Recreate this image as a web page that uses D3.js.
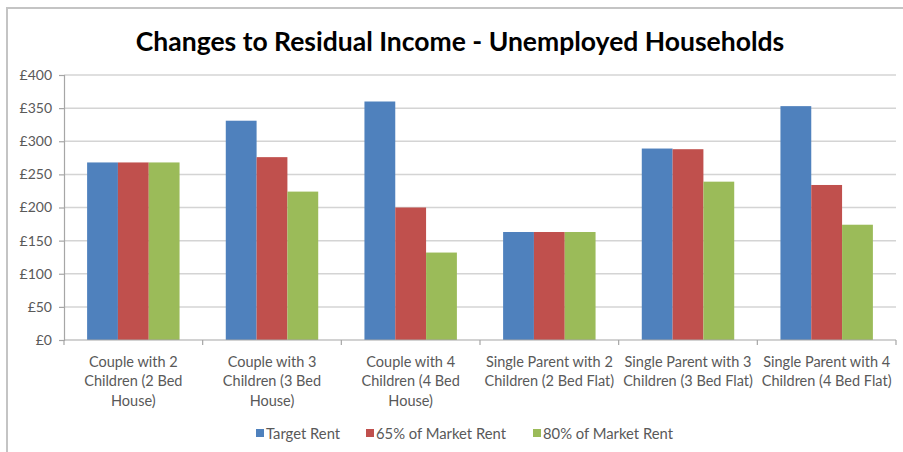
<!DOCTYPE html>
<html>
<head>
<meta charset="utf-8">
<script src="https://cdn.jsdelivr.net/npm/d3@7"></script>
<style>
  body { margin: 0; background: #fff; }
  svg { display: block; font-family: Lato, "Open Sans", sans-serif; }
</style>
</head>
<body>
<svg id="chart" width="903" height="452"></svg>
<script>
// Household types, already split into the lines shown under the axis
const categories = [
  ["Couple with 2", "Children (2 Bed", "House)"],
  ["Couple with 3", "Children (3 Bed", "House)"],
  ["Couple with 4", "Children (4 Bed", "House)"],
  ["Single Parent with 2", "Children (2 Bed Flat)"],
  ["Single Parent with 3", "Children (3 Bed Flat)"],
  ["Single Parent with 4", "Children (4 Bed Flat)"]
];
const seriesNames = ["Target Rent", "65% of Market Rent", "80% of Market Rent"];
const targetRent = [268, 331, 360, 163, 289, 353];
const marketRent65 = [268, 276, 200, 163, 288, 234];
const marketRent80 = [268, 224, 132, 163, 239, 174];
const yTicks = [0, 50, 100, 150, 200, 250, 300, 350, 400];
const seriesColors = ["#4F81BD", "#C0504D", "#9BBB59"];

const seriesValues = [targetRent, marketRent65, marketRent80];

const svg = d3.select("#chart");
const W = 903, H = 452;
const plot = { left: 64, right: 896, top: 75, bottom: 340 };

// outer frame (top and left edges)
svg.append("path")
  .attr("d", `M7,${H} L7,8 L${W},8`)
  .attr("fill", "none")
  .attr("stroke", "#c4c4c4")
  .attr("stroke-width", 2);

// title
svg.append("text")
  .attr("x", 460)
  .attr("y", 51)
  .attr("text-anchor", "middle")
  .attr("font-size", 26.5)
  .attr("font-weight", "bold")
  .attr("fill", "#000")
  .text("Changes to Residual Income - Unemployed Households");

const x = d3.scaleBand()
  .domain(d3.range(categories.length))
  .range([plot.left, plot.right])
  .paddingInner(0).paddingOuter(0);

const xSeries = d3.scaleBand()
  .domain(seriesNames)
  .range([0, x.bandwidth()])
  .paddingInner(0)
  .paddingOuter(0.75);

const y = d3.scaleLinear().domain([0, 400]).range([plot.bottom, plot.top]);

// gridlines
svg.append("g")
  .selectAll("line")
  .data(yTicks.filter(d => d > 0))
  .join("line")
  .attr("x1", plot.left).attr("x2", plot.right)
  .attr("y1", d => y(d)).attr("y2", d => y(d))
  .attr("stroke", "#d4d4d4")
  .attr("stroke-width", 1.5);

// y axis
const yAxis = svg.append("g")
  .attr("transform", `translate(${plot.left},0)`)
  .call(d3.axisLeft(y).tickValues(yTicks).tickSize(5).tickPadding(7)
    .tickFormat(d => "£" + d));
yAxis.select(".domain").attr("stroke", "#a6a6a6").attr("stroke-width", 1.2);
yAxis.selectAll(".tick line").attr("stroke", "#a6a6a6").attr("stroke-width", 1.2);
yAxis.selectAll(".tick text")
  .attr("font-size", 14)
  .attr("font-family", "Lato, 'Open Sans', sans-serif")
  .attr("fill", "#595959");

// bars
const groups = svg.append("g")
  .selectAll("g")
  .data(seriesNames)
  .join("g")
  .attr("fill", (d, i) => seriesColors[i]);

groups.selectAll("rect")
  .data((name, si) => seriesValues[si].map((v, ci) => ({ name, v, ci })))
  .join("rect")
  .attr("x", d => x(d.ci) + xSeries(d.name))
  .attr("width", xSeries.bandwidth())
  .attr("y", d => y(d.v))
  .attr("height", d => y(0) - y(d.v));

// x axis line and category boundary ticks
const xAxis = svg.append("g");
xAxis.append("line")
  .attr("x1", plot.left).attr("x2", plot.right)
  .attr("y1", y(0)).attr("y2", y(0))
  .attr("stroke", "#a6a6a6").attr("stroke-width", 1.2);
xAxis.selectAll("line.bound")
  .data(d3.range(categories.length + 1))
  .join("line")
  .attr("class", "bound")
  .attr("x1", i => plot.left + i * x.step())
  .attr("x2", i => plot.left + i * x.step())
  .attr("y1", y(0)).attr("y2", y(0) + 5)
  .attr("stroke", "#a6a6a6").attr("stroke-width", 1.2);

// category labels
const labels = xAxis.selectAll("text.cat")
  .data(categories)
  .join("text")
  .attr("class", "cat")
  .attr("text-anchor", "middle")
  .attr("font-size", 14.5)
  .attr("fill", "#595959")
  .attr("transform", (d, i) => `translate(${x(i) + x.bandwidth() / 2},${y(0) + 27})`);
labels.selectAll("tspan")
  .data(d => d)
  .join("tspan")
  .attr("x", 0)
  .attr("dy", (d, i) => i === 0 ? 0 : 19.3)
  .text(d => d);

// legend
const legendX = [256, 366, 533];
const legend = svg.append("g")
  .selectAll("g")
  .data(seriesNames)
  .join("g")
  .attr("transform", (d, i) => `translate(${legendX[i]},433)`);
legend.append("rect")
  .attr("x", 0).attr("y", -4)
  .attr("width", 8).attr("height", 8)
  .attr("fill", (d, i) => seriesColors[i]);
legend.append("text")
  .attr("x", 10).attr("y", 5.5)
  .attr("font-size", 14.8)
  .attr("fill", "#595959")
  .text(d => d);
</script>
</body>
</html>
